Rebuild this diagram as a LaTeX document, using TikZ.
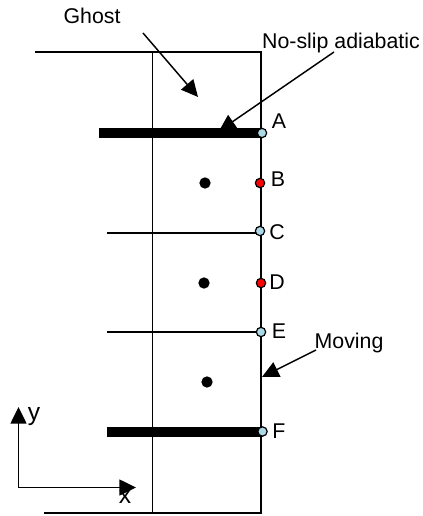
\documentclass[tikz,border=0pt]{standalone}
\usepackage{fontspec}
\setmainfont{Liberation Sans}
\usetikzlibrary{arrows.meta,backgrounds}
\definecolor{ptBlue}{RGB}{173,216,230}
\definecolor{ptRed}{RGB}{255,0,0}
\tikzset{
  lbl/.style    ={inner sep=0pt, font=\fontsize{16pt}{18pt}\selectfont},
  axl/.style    ={inner sep=0pt, font=\fontsize{18.5pt}{20pt}\selectfont},
  ptB/.style    ={circle, draw=black, fill=ptBlue, line width=0.9pt, minimum size=7pt, inner sep=0pt},
  ptR/.style    ={circle, draw=black, fill=ptRed, line width=0.9pt, minimum size=7pt, inner sep=0pt},
  cen/.style    ={circle, fill=black, minimum size=8.5pt, inner sep=0pt},
  cell/.style   ={line width=1.1pt, draw=black},
  wall/.style   ={line width=7.5pt, draw=black},
  fl/.style     ={-{Triangle[length=12.5pt, width=12pt]}, line width=1.1pt, draw=black},
}

\begin{document}
\begin{tikzpicture}[x=0.75pt, y=-0.75pt]
\useasboundingbox (0,0) rectangle (422,516);
% points on the moving side
\node[ptB] (A) at (262,133) {};
\node[ptR] (B) at (260,183) {};
\node[ptB] (C) at (260,231) {};
\node[ptR] (D) at (261,283) {};
\node[ptB] (E) at (261,332) {};
\node[ptB] (F) at (262.5,431.5) {};
\node[cen] (cB) at (205,183) {};
\node[cen] (cD) at (204,283) {};
\node[cen] (cF) at (207,382) {};
% labels
\node[lbl] (lA) at (279,121) {A};
\node[lbl] (lB) at (278,179) {B};
\node[lbl] (lC) at (277,232) {C};
\node[lbl] (lD) at (277,282) {D};
\node[lbl] (lE) at (279,331) {E};
\node[lbl] (lF) at (279,431) {F};
\node[lbl] (ghost) at (92,16) {Ghost};
\node[lbl] (noslip) at (341,43) {No-slip adiabatic};
\node[lbl] (moving) at (349,343) {Moving};
\node[axl] (ly) at (34,417) {y};
\node[axl] (lx) at (125,497) {x};
% cell corners and wall ends
\coordinate (tl) at (35,52);
\coordinate (tm) at (152.5,52);
\coordinate (tr) at (261,52);
\coordinate (bl) at (44,513);
\coordinate (bm) at (152.5,513);
\coordinate (br) at (261,513);
\coordinate (wA) at (98.5,133);
\coordinate (wC) at (107,233);
\coordinate (wE) at (107,332);
\coordinate (wF) at (107,431.5);
% arrow ends
\coordinate (g0) at (143,33);
\coordinate (g1) at (198,97);
\coordinate (n0) at (334,52);
\coordinate (n1) at (219,131);
\coordinate (m0) at (316,350);
\coordinate (m1) at (262,377);
\coordinate (o) at (18.5,487.5);
\coordinate (oy) at (18.5,407);
\coordinate (ox) at (136,487.5);
\begin{scope}[on background layer]
\draw[cell] (tl) -- (tr) -- (br) -- (bl);
\draw[cell] (tm) -- (bm);
\foreach \a/\b in {wC/C, wE/E}
  \draw[cell] (\a) -- (\b |- \a);
\draw[wall] (wA) -- (A.center);
\draw[wall] (wF) -- (F.center);
\end{scope}
\foreach \a/\b in {g0/g1, n0/n1, m0/m1, o/oy, o/ox}
  \draw[fl] (\a) -- (\b);
\end{tikzpicture}
\end{document}
